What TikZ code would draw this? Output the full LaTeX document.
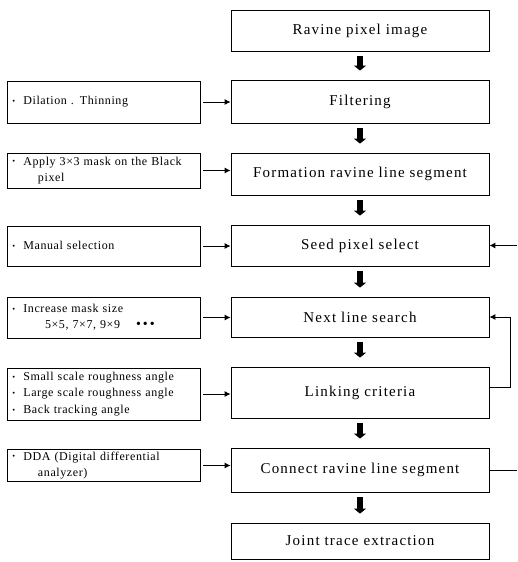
\documentclass[tikz,border=0pt]{standalone}
\usepackage{fontspec}
\setmainfont{Liberation Serif}
\newfontfamily\mainfnt[LetterSpace=8]{Liberation Serif}
\newfontfamily\sidefnt[LetterSpace=5]{Liberation Serif}
\usetikzlibrary{arrows.meta}
\tikzset{
  mainbox/.style={draw=black, line width=0.8pt, minimum width=258pt, inner sep=0pt, font=\mainfnt\fontsize{15}{18}\selectfont},
  sidebox/.style={draw=black, line width=0.8pt, minimum width=193pt, text width=185pt, inner xsep=4pt, inner ysep=0pt, align=left, font=\sidefnt\fontsize{12}{16.5}\selectfont},
  feed/.style={draw=black, line width=0.9pt, -{Latex[length=6pt,width=6pt]}},
  back/.style={draw=black, line width=0.9pt},
  blk/.style={draw=black, line width=6pt, shorten <=5pt, shorten >=9pt, -{Triangle[length=5pt,width=12pt]}},
}
\newcommand{\bul}{\raisebox{-1.8pt}{\fontsize{16}{12}\selectfont\textperiodcentered}\hspace{7pt}}

\begin{document}
\begin{tikzpicture}[x=1pt,y=-1pt]
  \useasboundingbox (0,0) rectangle (517,562);
  % main column
  \node[mainbox, minimum height=41pt] (ravine) at (360,30.5) {Ravine pixel image};
  \node[mainbox, minimum height=43pt] (filter) at (360,101.5) {Filtering};
  \node[mainbox, minimum height=42pt] (form) at (360,174) {Formation ravine line segment};
  \node[mainbox, minimum height=41pt] (seed) at (360,245.5) {Seed pixel select};
  \node[mainbox, minimum height=40pt] (next) at (360,317) {Next line search};
  \node[mainbox, minimum height=51pt] (link) at (360,392.5) {Linking criteria};
  \node[mainbox, minimum height=44pt] (conn) at (360,470) {Connect ravine line segment};
  \node[mainbox, minimum height=36pt] (joint) at (360,541) {Joint trace extraction};
  % side column
  \node[sidebox, minimum height=42pt] (dil) at (103.5,102) {\bul Dilation . Thinning};
  \node[sidebox, minimum height=35pt] (mask) at (103.5,170.5) {\bul Apply 3×3 mask on the Black\\\hspace*{27pt}pixel};
  \node[sidebox, minimum height=40pt] (manual) at (103.5,246) {\bul Manual selection};
  \node[sidebox, minimum height=41pt] (incr) at (103.5,317.5) {\bul Increase mask size\\\hspace*{34pt}5×5, 7×7, 9×9\hspace{16pt}{\fontsize{14}{12}\selectfont\textbullet\hspace{2pt}\textbullet\hspace{2pt}\textbullet}};
  \node[sidebox, minimum height=52pt] (rough) at (103.5,394) {\bul Small scale roughness angle\\\bul Large scale roughness angle\\\bul Back tracking angle};
  \node[sidebox, minimum height=32pt] (dda) at (103.5,465.5) {\bul DDA (Digital differential\\\hspace*{27pt}analyzer)};
  % block arrows
  \foreach \a/\b in {ravine/filter, filter/form, form/seed, seed/next, next/link, link/conn, conn/joint}
    \draw[blk] (\a.south) -- (\b.north);
  % side arrows
  \foreach \s/\m in {dil/filter, mask/form, manual/seed, incr/next, rough/link, dda/conn}
    \draw[feed, shorten <=3pt] (\s.east) -- (\s.east -| \m.west);
  % loops on the right
  \coordinate (rin) at (517,245.5);
  \coordinate (rout) at (517,470);
  \draw[feed] (rin) -- (seed.east);
  \draw[back] (conn.east) -- (rout);
  \draw[feed] ([yshift=5pt]link.east) -- ++(21,0) |- (next.east);
\end{tikzpicture}
\end{document}
